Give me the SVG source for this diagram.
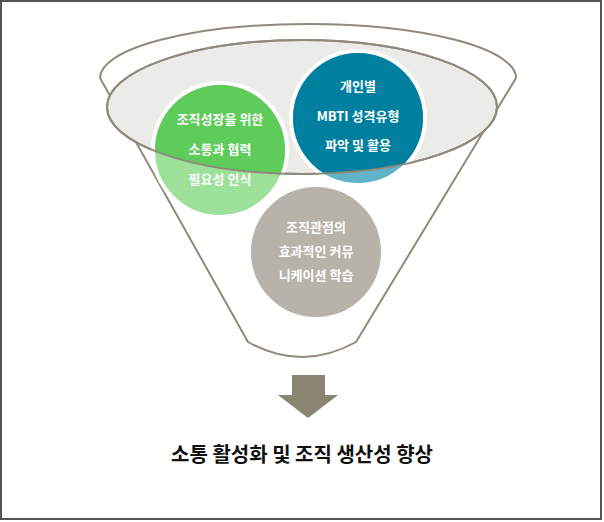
<svg xmlns="http://www.w3.org/2000/svg" width="604" height="522" viewBox="0 0 604 522">
<defs>
<style>
.t{font-family:"Noto Sans CJK KR","Noto Sans",sans-serif;font-weight:bold;fill:#fff;font-size:13px;text-anchor:middle}
.c{stroke:#fff;stroke-width:4}
</style>
<clipPath id="in"><ellipse cx="302" cy="107" rx="195" ry="67"/></clipPath>
</defs>
<rect x="1" y="1" width="600" height="518" fill="#fff" stroke="#555" stroke-width="2"/>
<g id="funnel">
<path d="M100,78 A208,54 0 0 1 516,78 L356,342 Q302,372 248,342 Z" fill="#fff" stroke="#8f8a7c" stroke-width="2"/>
<ellipse cx="302" cy="107" rx="195" ry="67" fill="#ebebe8" stroke="#8f8a7c" stroke-width="2"/>
</g>
<g id="n1">
<circle class="c" cx="220" cy="150" r="67" fill="#9de09a"/>
<circle cx="220" cy="150" r="65" fill="#5ecb5a" clip-path="url(#in)"/>
<text class="t" x="220" y="124">조직성장을 위한</text>
<text class="t" x="220" y="154">소통과 협력</text>
<text class="t" x="220" y="184">필요성 인식</text>
</g>
<g id="n2">
<circle class="c" cx="358" cy="118" r="67" fill="#62b3c8"/>
<circle cx="358" cy="118" r="65" fill="#00809e" clip-path="url(#in)"/>
<text class="t" x="358" y="91">개인별</text>
<text class="t" x="358" y="121">MBTI 성격유형</text>
<text class="t" x="358" y="150">파악 및 활용</text>
</g>
<ellipse cx="302" cy="107" rx="195" ry="67" fill="none" stroke="#8f8a7c" stroke-width="2"/>
<g id="n3">
<circle class="c" cx="316" cy="252" r="67" fill="#b8b3aa"/>
<text class="t" x="316" y="232">조직관점의</text>
<text class="t" x="316" y="256">효과적인 커뮤</text>
<text class="t" x="316" y="280">니케이션 학습</text>
</g>
<g id="connectors">
<path d="M292,375 H325 V395 H338 L308,418 L278,395 H292 Z" fill="#8a8570"/>
</g>
<text x="302" y="462" font-family="Noto Sans CJK KR,sans-serif" font-weight="bold" font-size="20" text-anchor="middle" fill="#111">소통 활성화 및 조직 생산성 향상</text>
</svg>
